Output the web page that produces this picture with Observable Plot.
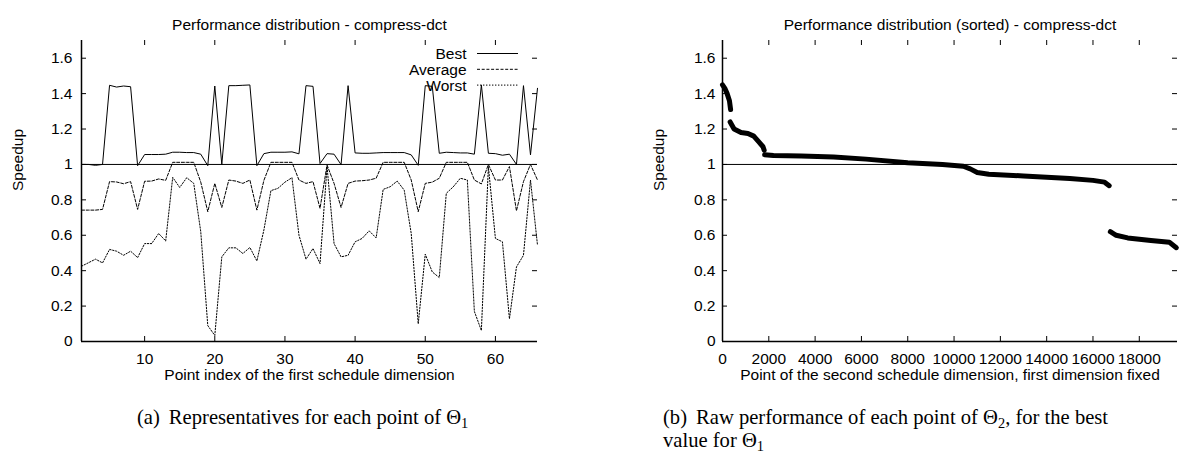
<!DOCTYPE html>
<html><head><meta charset="utf-8">
<script src="https://cdn.jsdelivr.net/npm/d3@7"></script>
<script src="https://cdn.jsdelivr.net/npm/@observablehq/plot@0.6"></script>
<style>
body{margin:0;background:#fff}
#wrap{position:relative;width:1194px;height:457px;overflow:hidden;background:#fff}
.panel{position:absolute;top:0}
.cap{position:absolute;font-family:"Liberation Serif","Times New Roman",serif;font-size:20.6px;line-height:23px;white-space:nowrap;color:#000}
.cap sub{font-size:70%;vertical-align:-0.3em;line-height:0}
#legend{position:absolute;left:0;top:0;overflow:visible}
</style></head><body>
<div id="wrap">
  <div id="left" class="panel" style="left:0"></div>
  <div id="right" class="panel" style="left:597px"></div>
  <svg id="legend" width="597" height="120"></svg>
  <div class="cap" style="left:137px;top:406px">(a)<span style="margin-left:9px">Representatives for each point of Θ<sub>1</sub></span></div>
  <div class="cap" style="left:663px;top:406px">(b)<span style="margin-left:9px">Raw performance of each point of Θ<sub>2</sub>, for the best</span><br>value for Θ<sub>1</sub></div>
</div>
<script>
// ---- data: left panel (representatives for each point of Theta1) ----
const pointIndex = [1,2,3,4,5,6,7,8,9,10,11,12,13,14,15,16,17,18,19,20,21,22,23,24,25,26,27,28,29,30,31,32,33,34,35,36,37,38,39,40,41,42,43,44,45,46,47,48,49,50,51,52,53,54,55,56,57,58,59,60,61,62,63,64,65,66];
const bestSpeedup = [1.0,1.0,0.995,1.0,1.447,1.437,1.443,1.439,0.993,1.056,
  1.056,1.056,1.058,1.069,1.069,1.067,1.067,1.058,0.993,1.443,
  1.0,1.445,1.445,1.447,1.449,0.993,1.061,1.069,1.069,1.069,
  1.071,1.06,1.445,1.441,1.005,1.061,1.058,0.999,1.445,1.065,
  1.063,1.063,1.065,1.067,1.067,1.067,1.067,1.054,0.995,1.445,
  1.441,1.063,1.069,1.067,1.065,1.065,1.058,1.449,1.063,1.061,
  1.052,1.058,1.0,1.445,1.054,1.43];
const averageSpeedup = [0.742,0.742,0.742,0.746,0.903,0.901,0.891,0.903,0.746,0.905,
  0.906,0.918,0.91,1.012,1.012,1.012,1.012,0.9,0.733,0.893,
  0.757,0.912,0.906,0.893,0.912,0.742,0.91,1.012,1.012,1.012,
  1.012,0.912,0.893,0.903,0.752,0.997,0.893,0.757,0.893,0.906,
  0.908,0.912,0.922,1.012,1.012,1.012,1.012,0.912,0.733,0.893,
  0.9,0.922,1.012,1.012,1.012,1.012,0.912,0.89,1.0,0.912,
  0.912,0.988,0.738,0.903,1.0,0.912];
const worstSpeedup = [0.425,0.445,0.465,0.444,0.52,0.51,0.487,0.51,0.474,0.553,
  0.553,0.61,0.568,0.927,0.87,0.925,0.893,0.62,0.09,0.034,
  0.478,0.529,0.529,0.497,0.531,0.455,0.63,0.852,0.865,0.9,
  0.925,0.6,0.465,0.525,0.44,0.988,0.553,0.478,0.487,0.563,
  0.582,0.625,0.585,0.859,0.874,0.906,0.855,0.61,0.1,0.493,
  0.393,0.361,0.837,0.874,0.922,0.912,0.17,0.062,0.988,0.582,
  0.563,0.128,0.421,0.487,0.912,0.544];
const leftXTicks = [10,20,30,40,50,60];

// ---- data: right panel (sorted raw performance of Theta2 points) ----
const sortedPoint   = [0,100,200,300,350, 330,500,800,1100,1350,1550,1750,1800,
  1820,2200,3400,4800,6200,8000,9500,10400,10700,11000,11500,13000,15000,16000,16500,16700,
  16750,17000,17500,18500,19300,19600];
const sortedSpeedup = [1.45,1.43,1.40,1.36,1.31, 1.24,1.20,1.18,1.175,1.16,1.13,1.10,1.08,
  1.055,1.05,1.047,1.042,1.03,1.01,1.0,0.99,0.975,0.955,0.945,0.935,0.92,0.91,0.90,0.88,
  0.62,0.60,0.585,0.57,0.56,0.53];
const sortedRun     = [1,1,1,1,1, 2,2,2,2,2,2,2,2,
  3,3,3,3,3,3,3,3,3,3,3,3,3,3,3,3,
  4,4,4,4,4,4];
const rightXTicks = [0,2000,4000,6000,8000,10000,12000,14000,16000,18000];

const yTicks = [0,0.2,0.4,0.6,0.8,1,1.2,1.4,1.6];
const legendLabels = ["Best","Average","Worst"];

const FONT = "Liberation Sans, Arial, Helvetica, sans-serif";
const FS = 15.5;
const fmtY = d => String(+d.toFixed(1));

function panel({xDomain, xTicks, marginLeft, marginRight, padY, title, xLabel, marks}) {
  const width = 597, height = 400, mt = 40, mb = 59;
  const pw = width - marginLeft - marginRight, ph = height - mt - mb;
  return Plot.plot({
    width, height, marginLeft, marginRight, marginTop: mt, marginBottom: mb,
    style: {fontFamily: FONT, fontSize: FS + "px", color: "#000", background: "transparent", overflow: "visible"},
    x: {domain: xDomain},
    y: {domain: [0, 1.7]},
    marks: [
      Plot.axisX(xTicks, {tickSize: 0, tickPadding: 11, tickFormat: d => String(d), label: null, fontSize: FS, fill: "#000"}),
      Plot.axisY(yTicks, {tickSize: 0, tickPadding: padY, tickFormat: fmtY, label: null, fontSize: FS, fill: "#000"}),
      Plot.tickY(yTicks, {y: d => d, insetRight: pw - 5, stroke: "#000"}),
      Plot.tickY(yTicks, {y: d => d, insetLeft: pw - 5, stroke: "#000"}),
      Plot.tickX(xTicks, {x: d => d, insetTop: ph - 5, stroke: "#000"}),
      Plot.tickX(xTicks, {x: d => d, insetBottom: ph - 5, stroke: "#000"}),
      Plot.ruleY([1], {stroke: "#000", strokeWidth: 1}),
      ...marks,
      Plot.ruleX([xDomain[0]], {stroke: "#000", strokeWidth: 1.5}),
      Plot.ruleY([0], {stroke: "#000", strokeWidth: 1.5}),
      Plot.text([title], {text: d => d, frameAnchor: "top", dy: -22, fontSize: FS, fill: "#000"}),
      Plot.text([xLabel], {text: d => d, frameAnchor: "bottom", dy: 38.5, fontSize: FS, fill: "#000"}),
      Plot.text(["Speedup"], {text: d => d, frameAnchor: "left", dx: -63.5, rotate: -90, fontSize: FS, fill: "#000"})
    ]
  });
}

const leftData = pointIndex.map((x, i) => ({x, best: bestSpeedup[i], avg: averageSpeedup[i], worst: worstSpeedup[i]}));
const rightData = sortedPoint.map((x, i) => ({x, y: sortedSpeedup[i], run: sortedRun[i]}));

const left = panel({
  xDomain: [1, 66], xTicks: leftXTicks, marginLeft: 81, marginRight: 60, padY: 9,
  title: "Performance distribution - compress-dct",
  xLabel: "Point index of the first schedule dimension",
  marks: [
    Plot.line(leftData, {x: "x", y: "best", stroke: "#000", strokeWidth: 1}),
    Plot.line(leftData, {x: "x", y: "avg", stroke: "#000", strokeWidth: 1, strokeDasharray: "3,1.7"}),
    Plot.line(leftData, {x: "x", y: "worst", stroke: "#000", strokeWidth: 1, strokeDasharray: "1.4,1.6"})
  ]
});
document.getElementById("left").appendChild(left);

const right = panel({
  xDomain: [0, 19650], xTicks: rightXTicks, marginLeft: 125, marginRight: 17, padY: 7,
  title: "Performance distribution (sorted) - compress-dct",
  xLabel: "Point of the second schedule dimension, first dimension fixed",
  marks: [
    Plot.line(rightData, {x: "x", y: "y", z: "run", stroke: "#000", strokeWidth: 5, strokeLinecap: "round", strokeLinejoin: "round", curve: "linear"})
  ]
});
document.getElementById("right").appendChild(right);

// legend for left panel
const dashes = [null, "3,1.7", "1.4,1.6"];
const lg = d3.select("#legend");
legendLabels.forEach((lab, i) => {
  const y = 53.5 + i * 15.8;
  lg.append("text").attr("x", 466.5).attr("y", y).attr("dy", "0.35em").attr("text-anchor", "end")
    .attr("font-family", FONT).attr("font-size", FS).attr("fill", "#000").text(lab);
  const ln = lg.append("line").attr("x1", 477).attr("x2", 518).attr("y1", y).attr("y2", y)
    .attr("stroke", "#000").attr("stroke-width", 1);
  if (dashes[i]) ln.attr("stroke-dasharray", dashes[i]);
});
</script>
</body></html>
